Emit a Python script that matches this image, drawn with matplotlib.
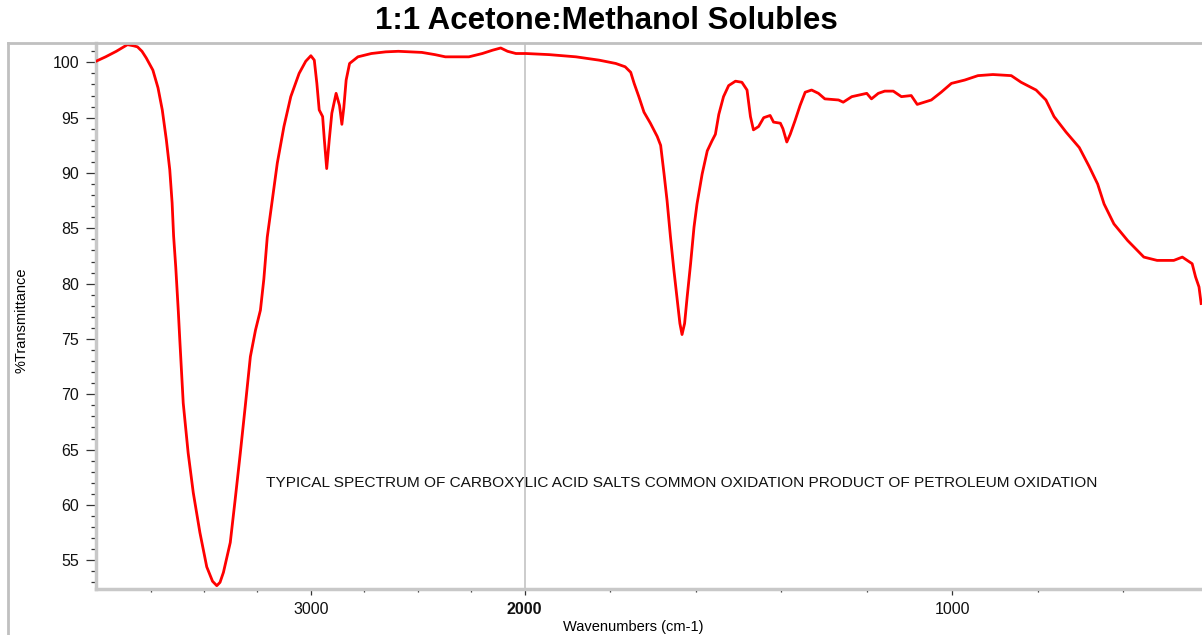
import matplotlib.pyplot as plt
import numpy as np
from matplotlib.lines import Line2D

plt.rcParams['font.family'] = ['Liberation Sans', 'DejaVu Sans']

# spectrum (wavenumber cm-1, %T)
wavenumber = [4005, 3960, 3910, 3858, 3830, 3811, 3790, 3770, 3739, 3715, 3695, 3676,
              3660, 3649, 3642, 3632, 3620, 3613, 3597, 3574, 3550, 3519, 3487, 3460,
              3440, 3425, 3409, 3377, 3354, 3330, 3307, 3283, 3259, 3236, 3220, 3204,
              3181, 3157, 3126, 3094, 3055, 3024, 3000, 2984, 2972, 2961, 2945, 2937,
              2926, 2914, 2902, 2882, 2866, 2855, 2846, 2835, 2819, 2780, 2717, 2650,
              2591, 2481, 2420, 2371, 2261, 2198, 2150, 2112, 2080, 2041, 1997, 1943,
              1880, 1826, 1787, 1765, 1752, 1744, 1733, 1721, 1706, 1690, 1682, 1674,
              1667, 1659, 1651, 1643, 1637, 1632, 1626, 1620, 1612, 1604, 1597, 1585,
              1573, 1562, 1554, 1546, 1535, 1523, 1507, 1492, 1480, 1472, 1465, 1453,
              1441, 1426, 1418, 1402, 1396, 1387, 1379, 1368, 1356, 1344, 1329, 1313,
              1298, 1266, 1255, 1235, 1200, 1189, 1173, 1158, 1138, 1119, 1096, 1082,
              1049, 1026, 1002, 971, 940, 905, 862, 839, 804, 781, 762, 734,
              703, 680, 660, 645, 622, 590, 552, 521, 482, 462, 439, 431,
              423, 418]
transmittance = [100.1, 100.5, 101.0, 101.6, 101.5, 101.4, 101.0, 100.4, 99.3, 97.7, 95.7, 93.0,
                 90.3, 87.3, 84.3, 81.5, 77.5, 74.9, 69.2, 64.7, 61.1, 57.5, 54.4, 53.1,
                 52.7, 53.0, 53.9, 56.6, 60.5, 64.7, 68.9, 73.4, 75.8, 77.6, 80.4, 84.2,
                 87.5, 90.9, 94.2, 96.9, 99.0, 100.1, 100.6, 100.2, 98.1, 95.7, 95.1, 93.0,
                 90.4, 93.0, 95.4, 97.2, 96.1, 94.4, 95.9, 98.4, 99.9, 100.5, 100.8, 100.95,
                 101.0, 100.9, 100.7, 100.5, 100.5, 100.8, 101.1, 101.3, 101.0, 100.8, 100.8, 100.7,
                 100.5, 100.2, 99.9, 99.6, 99.1, 98.1, 96.9, 95.5, 94.5, 93.3, 92.5, 89.9,
                 87.5, 84.2, 81.2, 78.5, 76.4, 75.4, 76.4, 78.8, 81.8, 85.1, 87.2, 89.9,
                 92.0, 92.9, 93.5, 95.3, 96.9, 97.9, 98.3, 98.2, 97.5, 95.1, 93.9, 94.2,
                 95.0, 95.2, 94.6, 94.5, 94.0, 92.8, 93.5, 94.7, 96.1, 97.3, 97.5, 97.2,
                 96.7, 96.6, 96.4, 96.9, 97.2, 96.7, 97.2, 97.4, 97.4, 96.9, 97.0, 96.2,
                 96.6, 97.3, 98.1, 98.4, 98.8, 98.9, 98.8, 98.2, 97.5, 96.6, 95.1, 93.7,
                 92.3, 90.6, 89.0, 87.2, 85.4, 83.9, 82.4, 82.1, 82.1, 82.4, 81.8, 80.6,
                 79.7, 78.2]

major_x = [3000, 2000, 1000]
minor_x = [3750, 3500, 3250, 2750, 2500, 2250, 1800, 1600, 1400, 1200, 800, 600]
note = 'TYPICAL SPECTRUM OF CARBOXYLIC ACID SALTS COMMON OXIDATION PRODUCT OF PETROLEUM OXIDATION'


# FTIR style axis: region above 2000 cm-1 compressed by half
def fwd(w):
    w = np.asarray(w, dtype=float)
    return np.where(w > 2000, 2000 + (w - 2000) / 2, w)


def inv(p):
    p = np.asarray(p, dtype=float)
    return np.where(p > 2000, 2000 + (p - 2000) * 2, p)


fig = plt.figure(figsize=(12.02, 6.35), dpi=100)
ax = fig.add_axes([96 / 1202, 46 / 635, 1 - 96 / 1202, (589 - 43) / 635])

ax.set_xscale('function', functions=(fwd, inv))
ax.set_xlim(4005, 416)
ax.set_ylim(52.4, 101.75)

ax.axvline(2000, color='#c8c8c8', lw=1.3, zorder=1)
ax.plot(wavenumber, transmittance, color='#ff0000', lw=2, zorder=3)

ax.xaxis.set_major_locator(plt.FixedLocator(major_x))
ax.xaxis.set_minor_locator(plt.FixedLocator(minor_x))
ax.xaxis.set_major_formatter(plt.FixedFormatter([str(v) for v in major_x]))
ax.xaxis.set_minor_formatter(plt.NullFormatter())
ax.set_yticks(np.arange(55, 101, 5))
ax.set_yticks(np.arange(53, 102, 1), minor=True)

ax.tick_params(axis='both', which='both', direction='out', color='#333333', width=0.9,
               labelsize=11.5, labelcolor='#111111')
ax.tick_params(axis='y', which='major', length=7, pad=5)
ax.tick_params(axis='y', which='minor', length=3.5)
ax.tick_params(axis='x', which='major', length=4.5, pad=5)
ax.tick_params(axis='x', which='minor', length=2.5)
for lab in ax.get_xticklabels():
    if lab.get_text() == '2000':
        lab.set_fontweight('bold')

for side in ['top', 'right']:
    ax.spines[side].set_visible(False)
for side in ['left', 'bottom']:
    ax.spines[side].set_color('#c8c8c8')
    ax.spines[side].set_linewidth(2.5)

# note starts at about 3210 cm-1
ax.text(3210, 62.0, note, fontsize=11.1, ha='left', va='center', color='#111111')

# outer frame lines
fig.add_artist(Line2D([8 / 1202, 8 / 1202], [0, 1 - 43 / 635], color='#c0c0c0', lw=2))
fig.add_artist(Line2D([8 / 1202, 1], [1 - 43 / 635, 1 - 43 / 635], color='#c0c0c0', lw=2))

fig.text(606 / 1202, 1 - 21 / 635, '1:1 Acetone:Methanol Solubles', ha='center', va='center',
         fontsize=22.5, fontweight='bold')
fig.text(633 / 1202, 1 - 627 / 635, 'Wavenumbers (cm-1)', ha='center', va='center', fontsize=10.5)
fig.text(22 / 1202, 1 - 320 / 635, '%Transmittance', ha='center', va='center', fontsize=10.5,
         rotation=90)

fig.savefig('out.png', dpi=100)
